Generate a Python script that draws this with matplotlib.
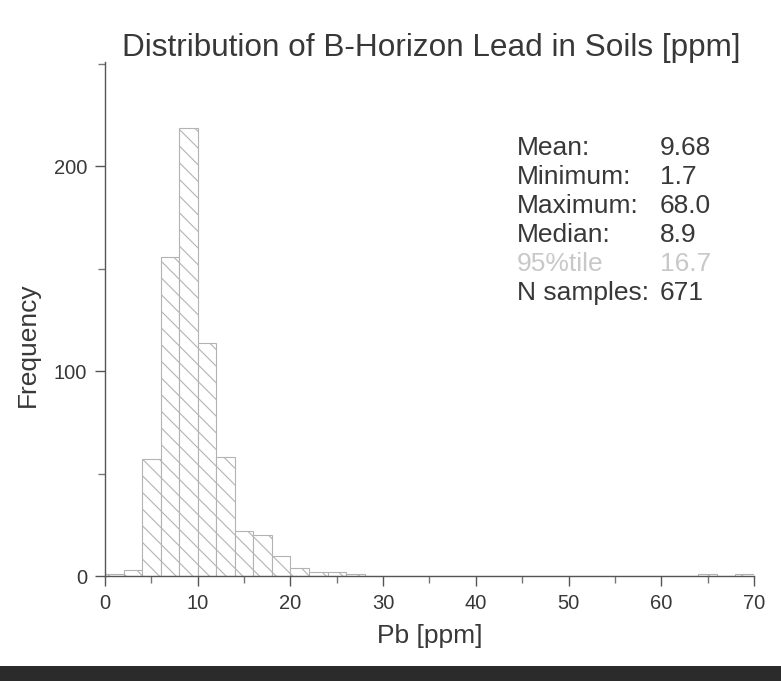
import numpy as np
import matplotlib.pyplot as plt
from matplotlib.patches import Rectangle
from matplotlib.ticker import MultipleLocator

plt.rcParams['font.family'] = ['Liberation Sans', 'DejaVu Sans']
plt.rcParams['hatch.color'] = '#b3b3b3'
plt.rcParams['hatch.linewidth'] = 0.8

# histogram of Pb, 2 ppm bins
bin_left = np.arange(0, 70, 2)
counts = [1, 3, 57, 156, 219, 114, 58, 22, 20, 10, 4, 2, 2, 1,
          0, 0, 0, 0, 0, 0, 0, 0, 0, 0, 0, 0, 0, 0, 0, 0, 0, 0, 1, 0, 1]

stat_names = ['Mean:', 'Minimum:', 'Maximum:', 'Median:', '95%tile', 'N samples:']
stat_vals = ['9.68', '1.7', '68.0', '8.9', '16.7', '671']
stat_cols = ['#383838', '#383838', '#383838', '#383838', '#c8c8c8', '#383838']

W, H = 781, 681
fig = plt.figure(figsize=(W / 100, H / 100), dpi=100)
ax = fig.add_axes([105 / W, 105 / H, 649 / W, 514 / H])

ax.bar(bin_left, counts, width=2, align='edge', color='white',
       edgecolor='#b3b3b3', linewidth=0.8, hatch='\\\\')

ax.set_xlim(0, 70)
ax.set_ylim(0, 251)
ax.spines['top'].set_visible(False)
ax.spines['right'].set_visible(False)
for s in ['left', 'bottom']:
    ax.spines[s].set_color('#555555')
    ax.spines[s].set_linewidth(1.0)

ax.xaxis.set_major_locator(MultipleLocator(10))
ax.xaxis.set_minor_locator(MultipleLocator(5))
ax.yaxis.set_major_locator(MultipleLocator(100))
ax.yaxis.set_minor_locator(MultipleLocator(50))
ax.tick_params(which='major', length=7, width=1, color='#555555',
               labelsize=14.5, labelcolor='#383838', pad=6)
ax.tick_params(which='minor', length=5, width=1, color='#777777')

ax.set_xlabel('Pb [ppm]', fontsize=19, color='#383838', labelpad=8)
ax.set_ylabel('Frequency', fontsize=19, color='#383838')
ax.yaxis.set_label_coords(-0.1, 0.45)

fig.text(431 / W, 1 - 56 / H, 'Distribution of B-Horizon Lead in Soils [ppm]',
         fontsize=22.7, color='#383838', ha='center', va='baseline')

y0 = 148
for i, (n, v, c) in enumerate(zip(stat_names, stat_vals, stat_cols)):
    yy = 1 - (y0 + i * 29) / H
    fig.text(517 / W, yy, n, fontsize=19, color=c, va='center', ha='left')
    fig.text(660 / W, yy, v, fontsize=19, color=c, va='center', ha='left')

# dark strip along the bottom of the scanned page
fig.patches.append(Rectangle((0, 0), 1, 15 / H, transform=fig.transFigure,
                             facecolor='#2b2b2b', edgecolor='none'))

fig.savefig('out.png', dpi=100)
